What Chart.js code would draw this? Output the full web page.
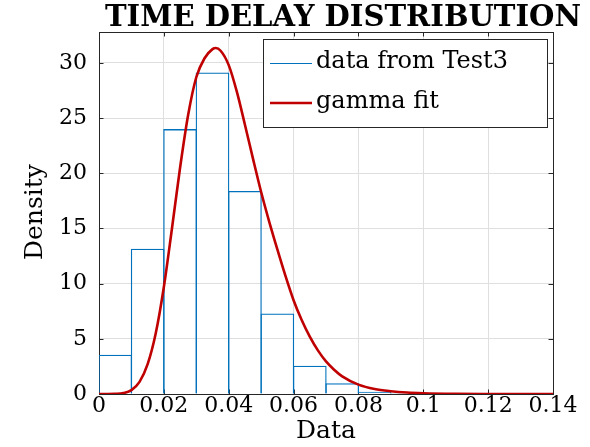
<!DOCTYPE html>
<html>
<head>
<meta charset="utf-8">
<title>Time delay distribution</title>
<script src="https://cdn.jsdelivr.net/npm/chart.js@4.4.1/dist/chart.umd.min.js"></script>
<style>
html, body { margin: 0; padding: 0; background: #fff; }
#wrap { width: 590px; height: 447px; }
</style>
</head>
<body>
<div id="wrap"><canvas id="delayChart" width="590" height="447"></canvas></div>
<script>
'use strict';

// histogram: left edge of each bin and its density
var binEdges = [0, 0.01, 0.02, 0.03, 0.04, 0.05, 0.06, 0.07, 0.08, 0.09];
var binWidth = 0.01;
var density  = [3.56, 13.17, 24.0, 29.13, 18.4, 7.3, 2.57, 0.97, 0.2, 0.08];

// gamma fit curve
var fitX = [0, 0.005, 0.0075, 0.01, 0.0125, 0.015, 0.0175, 0.02, 0.0225, 0.025, 0.0275, 0.03,
            0.0325, 0.035, 0.036, 0.0375, 0.04, 0.0425, 0.045, 0.0475, 0.05, 0.0525, 0.055,
            0.0575, 0.06, 0.0625, 0.065, 0.0675, 0.07, 0.0725, 0.075, 0.08, 0.085, 0.09,
            0.095, 0.1, 0.11, 0.12, 0.13, 0.14];
var fitY = [0, 0.02, 0.08, 0.35, 1.1, 2.7, 5.5, 9.7, 15.0, 20.5, 25.3, 28.7,
            30.4, 31.25, 31.35, 31.1, 29.8, 27.4, 24.4, 21.3, 18.3, 15.6, 13.1,
            10.7, 8.5, 6.7, 5.2, 3.95, 2.95, 2.2, 1.6, 0.85, 0.45, 0.25,
            0.13, 0.07, 0.02, 0.005, 0, 0];

var xTicks = [0, 0.02, 0.04, 0.06, 0.08, 0.1, 0.12, 0.14];
var yTicks = [0, 5, 10, 15, 20, 25, 30];

var seriesNames = ['data from Test3', 'gamma fit'];
var seriesColors = ['#0072bd', '#c00000'];

var FONT = '"DejaVu Serif", "Liberation Serif", serif';
var AXIS = '#262626';

var histData = binEdges.map(function(e, i) { return { x: e + binWidth / 2, y: density[i] }; });
var fitData = fitX.map(function(x, i) { return { x: x, y: fitY[i] }; });

// axes box + inward tick marks (drawn under the data, like MATLAB)
var boxPlugin = {
    id: 'box',
    beforeDatasetsDraw: function(chart) {
        var ctx = chart.ctx, a = chart.chartArea;
        var xs = chart.scales.x, ys = chart.scales.y, tl = 4.5;
        ctx.save();
        ctx.strokeStyle = AXIS;
        ctx.lineWidth = 1;
        ctx.beginPath();
        xTicks.forEach(function(v) {
            var px = Math.round(xs.getPixelForValue(v)) + 0.5;
            ctx.moveTo(px, a.bottom); ctx.lineTo(px, a.bottom - tl);
            ctx.moveTo(px, a.top); ctx.lineTo(px, a.top + tl);
        });
        yTicks.forEach(function(v) {
            var py = Math.round(ys.getPixelForValue(v)) + 0.5;
            ctx.moveTo(a.left, py); ctx.lineTo(a.left + tl, py);
            ctx.moveTo(a.right, py); ctx.lineTo(a.right - tl, py);
        });
        ctx.stroke();
        ctx.strokeRect(Math.round(a.left) + 0.5, Math.round(a.top) + 0.5,
                       Math.round(a.right - a.left), Math.round(a.bottom - a.top));
        ctx.restore();
    }
};

// title, axis titles and boxed legend
var textPlugin = {
    id: 'texts',
    afterDatasetsDraw: function(chart) {
        var ctx = chart.ctx;
        ctx.save();
        ctx.fillStyle = '#000';

        // title, sized to the reference width
        var title = 'TIME DELAY DISTRIBUTION';
        ctx.font = 'bold 30px ' + FONT;
        var size = 30 * 477 / ctx.measureText(title).width;
        ctx.font = 'bold ' + size.toFixed(1) + 'px ' + FONT;
        ctx.textAlign = 'center';
        ctx.textBaseline = 'alphabetic';
        ctx.fillText(title, 343, 26);

        ctx.font = '25px ' + FONT;
        ctx.fillText('Data', 326, 438);
        ctx.save();
        ctx.translate(42, 212);
        ctx.rotate(-Math.PI / 2);
        ctx.fillText('Density', 0, 0);
        ctx.restore();

        // legend
        ctx.fillStyle = '#fff';
        ctx.fillRect(263.5, 39.5, 284, 88);
        ctx.strokeStyle = '#262626';
        ctx.lineWidth = 1;
        ctx.strokeRect(263.5, 39.5, 284, 88);
        var rows = [63.5, 103];
        var widths = [1.2, 2.6];
        ctx.font = '24px ' + FONT;
        ctx.textAlign = 'left';
        seriesNames.forEach(function(name, i) {
            ctx.strokeStyle = seriesColors[i];
            ctx.lineWidth = widths[i];
            ctx.beginPath();
            ctx.moveTo(270, rows[i]);
            ctx.lineTo(312, rows[i]);
            ctx.stroke();
            ctx.fillStyle = '#000';
            ctx.fillText(name, 316, rows[i] + 4.5);
        });
        ctx.restore();
    }
};

function fmtTick(v) { return String(+(+v).toFixed(2)); }

new Chart(document.getElementById('delayChart'), {
    type: 'bar',
    data: {
        datasets: [
            {
                type: 'line',
                label: seriesNames[1],
                data: fitData,
                borderColor: seriesColors[1],
                borderWidth: 2.6,
                pointRadius: 0,
                fill: false,
                cubicInterpolationMode: 'monotone',
                order: 0
            },
            {
                type: 'bar',
                label: seriesNames[0],
                data: histData,
                backgroundColor: 'rgba(0,0,0,0)',
                borderColor: seriesColors[0],
                borderWidth: { top: 1.3, right: 1.3, bottom: 0, left: 1.3 },
                borderSkipped: false,
                inflateAmount: 0,
                // a hair wider than the bin so neighbouring edges land on one line
                barPercentage: 1.04,
                categoryPercentage: 1,
                order: 1
            }
        ]
    },
    options: {
        responsive: false,
        animation: false,
        devicePixelRatio: 1,
        layout: { padding: { top: 32, right: 37, left: 0, bottom: 0 } },
        plugins: { legend: { display: false }, tooltip: { enabled: false }, title: { display: false } },
        scales: {
            x: {
                type: 'linear',
                min: 0, max: 0.14,
                offset: false,
                grid: { color: '#dfdfdf', drawTicks: false, offset: false },
                border: { display: false },
                afterBuildTicks: function(s) { s.ticks = xTicks.map(function(v) { return { value: v }; }); },
                afterFit: function(s) { s.height = 53; },
                ticks: {
                    color: '#000', padding: 1, maxRotation: 0, autoSkip: false,
                    font: { family: FONT, size: 22, lineHeight: 1 },
                    callback: function(v) { return fmtTick(v); }
                }
            },
            y: {
                type: 'linear',
                min: 0, max: 32.8,
                grid: { color: '#dfdfdf', drawTicks: false },
                border: { display: false },
                afterBuildTicks: function(s) { s.ticks = yTicks.map(function(v) { return { value: v }; }); },
                afterFit: function(s) { s.width = 99; },
                ticks: {
                    color: '#000', padding: 12,
                    font: { family: FONT, size: 22, lineHeight: 1 },
                    callback: function(v) { return fmtTick(v); }
                }
            }
        }
    },
    plugins: [boxPlugin, textPlugin]
});
</script>
</body>
</html>
